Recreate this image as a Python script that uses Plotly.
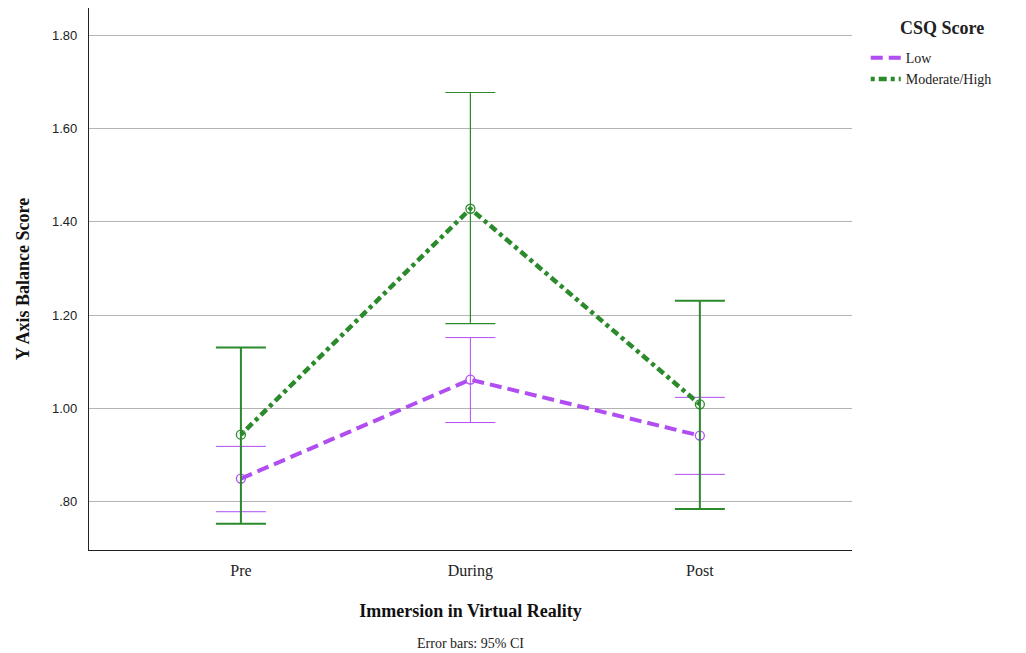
import plotly.graph_objects as go

# Immersion phases
phases = ["Pre", "During", "Post"]

# Mean Y axis balance score and 95% CI bounds, low CSQ group
low_mean = [0.850, 1.062, 0.942]
low_upper = [0.919, 1.152, 1.024]
low_lower = [0.779, 0.970, 0.859]

# Mean Y axis balance score and 95% CI bounds, moderate/high CSQ group
mod_mean = [0.944, 1.428, 1.009]
mod_upper = [1.131, 1.677, 1.231]
mod_lower = [0.753, 1.182, 0.785]

y_ticks = [0.8, 1.0, 1.2, 1.4, 1.6, 1.8]
y_tick_text = [".80", "1.00", "1.20", "1.40", "1.60", "1.80"]

PURPLE = "#b04ef2"
GREEN = "#2b8a2b"
SERIF = "Liberation Serif"

fig = go.Figure()


def add_group(name, mean, upper, lower, color, dash, bar_widths, lw):
    # confidence interval bars, one per phase
    for i, ph in enumerate(phases):
        fig.add_trace(go.Scatter(
            x=[ph], y=[mean[i]], mode="markers",
            marker=dict(size=1, color="rgba(0,0,0,0)"),
            error_y=dict(type="data", symmetric=False,
                         array=[upper[i] - mean[i]],
                         arrayminus=[mean[i] - lower[i]],
                         color=color, thickness=bar_widths[i], width=25),
            showlegend=False, hoverinfo="skip"))
    # mean profile line
    fig.add_trace(go.Scatter(
        x=phases, y=mean, mode="lines", name=name,
        line=dict(color=color, width=lw, dash=dash)))
    # open circle markers at the means
    fig.add_trace(go.Scatter(
        x=phases, y=mean, mode="markers", showlegend=False,
        marker=dict(symbol="circle-open", size=9, color=color,
                    line=dict(width=1.3, color=color))))


add_group("Low", low_mean, low_upper, low_lower, PURPLE, "12px,6px", [1, 1, 1], 4)
add_group("Moderate/High", mod_mean, mod_upper, mod_lower, GREEN,
          "4px,4px,8px,4px", [2, 1.2, 2], 4.5)

fig.update_layout(
    width=1026, height=653,
    margin=dict(l=89, r=174, t=8, b=103),
    paper_bgcolor="white", plot_bgcolor="white",
    showlegend=True,
    legend=dict(
        x=1.018, y=0.937, xanchor="left", yanchor="top",
        font=dict(family=SERIF, size=14, color="#222"),
        tracegroupgap=0, itemwidth=30,
    ),
    xaxis=dict(
        type="category", range=[-0.662, 2.663],
        showgrid=False, showline=True, linecolor="#222", linewidth=1.3,
        ticks="outside", ticklen=6, tickcolor="rgba(0,0,0,0)",
        tickfont=dict(family=SERIF, size=16, color="#222"),
        title=dict(text="<b>Immersion in Virtual Reality</b>",
                   font=dict(family=SERIF, size=18, color="#111"), standoff=25),
    ),
    yaxis=dict(
        range=[0.697, 1.858],
        tickvals=y_ticks, ticktext=y_tick_text,
        showgrid=True, gridcolor="#b3b3b3", gridwidth=1,
        showline=True, linecolor="#222", linewidth=1.3,
        zeroline=False,
        ticks="outside", ticklen=8, tickcolor="rgba(0,0,0,0)",
        tickfont=dict(family="Liberation Sans", size=13, color="#222"),
        title=dict(text="<b>Y Axis Balance Score</b>",
                   font=dict(family=SERIF, size=18, color="#111"), standoff=17),
    ),
)

# legend heading
fig.add_annotation(
    text="<b>CSQ Score</b>", xref="paper", yref="paper",
    x=1.1185, y=1.0, xanchor="center", yanchor="middle", showarrow=False,
    yshift=-20,
    font=dict(family=SERIF, size=18, color="#222"))

fig.add_annotation(
    text="Error bars: 95% CI", xref="paper", yref="paper",
    x=0.5, y=-0.172, xanchor="center", yanchor="middle", showarrow=False,
    font=dict(family=SERIF, size=14, color="#222"))

fig.write_html("out.html")
